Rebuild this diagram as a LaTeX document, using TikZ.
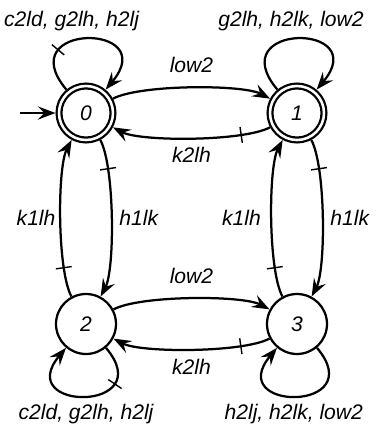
\documentclass[tikz,border=0pt]{standalone}
\usepackage{fontspec}
\setmainfont{Liberation Sans}
\usetikzlibrary{arrows.meta}
\definecolor{LineBlack}{HTML}{000000}
\tikzset{
  state/.style={draw=LineBlack, circle, line width=1.6pt, fill=white, minimum size=1.5cm, inner sep=0pt, font=\fontsize{15}{18}\selectfont\itshape},
  acceptstate/.style={state, double, double distance=1.8pt, minimum size=1.35cm, outer sep=2.5pt},
  arrow/.style={-{Stealth[length=4.4mm, width=3.3mm, inset=1.6mm]}, line width=1.6pt, draw=LineBlack},
  tickmark/.style={draw=LineBlack, line width=1pt, inner sep=0pt, minimum width=0pt, minimum height=0.4cm, sloped},
  lbl/.style={font=\fontsize{15}{18}\selectfont\itshape, inner sep=2pt},
  arc/.style={bend left=28, looseness=0.5},
  uploop/.style={out=130, in=50, min distance=2.2cm, looseness=1},
  downloop/.style={out=-50, in=-130, min distance=2.1cm, looseness=1}
}
\begin{document}
\begin{tikzpicture}
\useasboundingbox (0,0) rectangle (9.5,-10.675);
\node[acceptstate] (q0) at (2.15,-2.825) {0};
\node[acceptstate] (q1) at (7.425,-2.825) {1};
\node[state] (q2) at (2.15,-8.1) {2};
\node[state] (q3) at (7.425,-8.1) {3};
\coordinate (init) at (0.5,-2.825);
\draw[arrow] (init) -- (q0);
\draw[arrow] (q0) to[arc] node[lbl, above=8pt] {low2} (q1);
\draw[arrow] (q1) to[arc] node[tickmark, pos=0.23] {} node[lbl, below=4pt] {k2lh} (q0);
\draw[arrow] (q2) to[arc] node[lbl, above=8pt] {low2} (q3);
\draw[arrow] (q3) to[arc] node[tickmark, pos=0.23] {} node[lbl, below=4pt] {k2lh} (q2);
\draw[arrow] (q0) to[arc] node[tickmark, pos=0.23] {} node[lbl, right=3pt] {h1lk} (q2);
\draw[arrow] (q2) to[arc] node[tickmark, pos=0.23] {} node[lbl, left=1pt] {k1lh} (q0);
\draw[arrow] (q1) to[arc] node[tickmark, pos=0.23] {} node[lbl, right=3pt] {h1lk} (q3);
\draw[arrow] (q3) to[arc] node[tickmark, pos=0.23] {} node[lbl, left=5pt] {k1lh} (q1);
\draw[arrow] (q0) to[uploop] node[tickmark, pos=0.27] {} node[lbl, above=3pt, xshift=-0.36cm] {c2ld, g2lh, h2lj} (q0);
\draw[arrow] (q1) to[uploop] node[lbl, above=3pt, xshift=-0.15cm] {g2lh, h2lk, low2} (q1);
\draw[arrow] (q2) to[downloop] node[tickmark, pos=0.25] {} node[lbl, below=3pt] {c2ld, g2lh, h2lj} (q2);
\draw[arrow] (q3) to[downloop] node[lbl, below=3pt, xshift=-0.08cm] {h2lj, h2lk, low2} (q3);
\end{tikzpicture}
\end{document}
